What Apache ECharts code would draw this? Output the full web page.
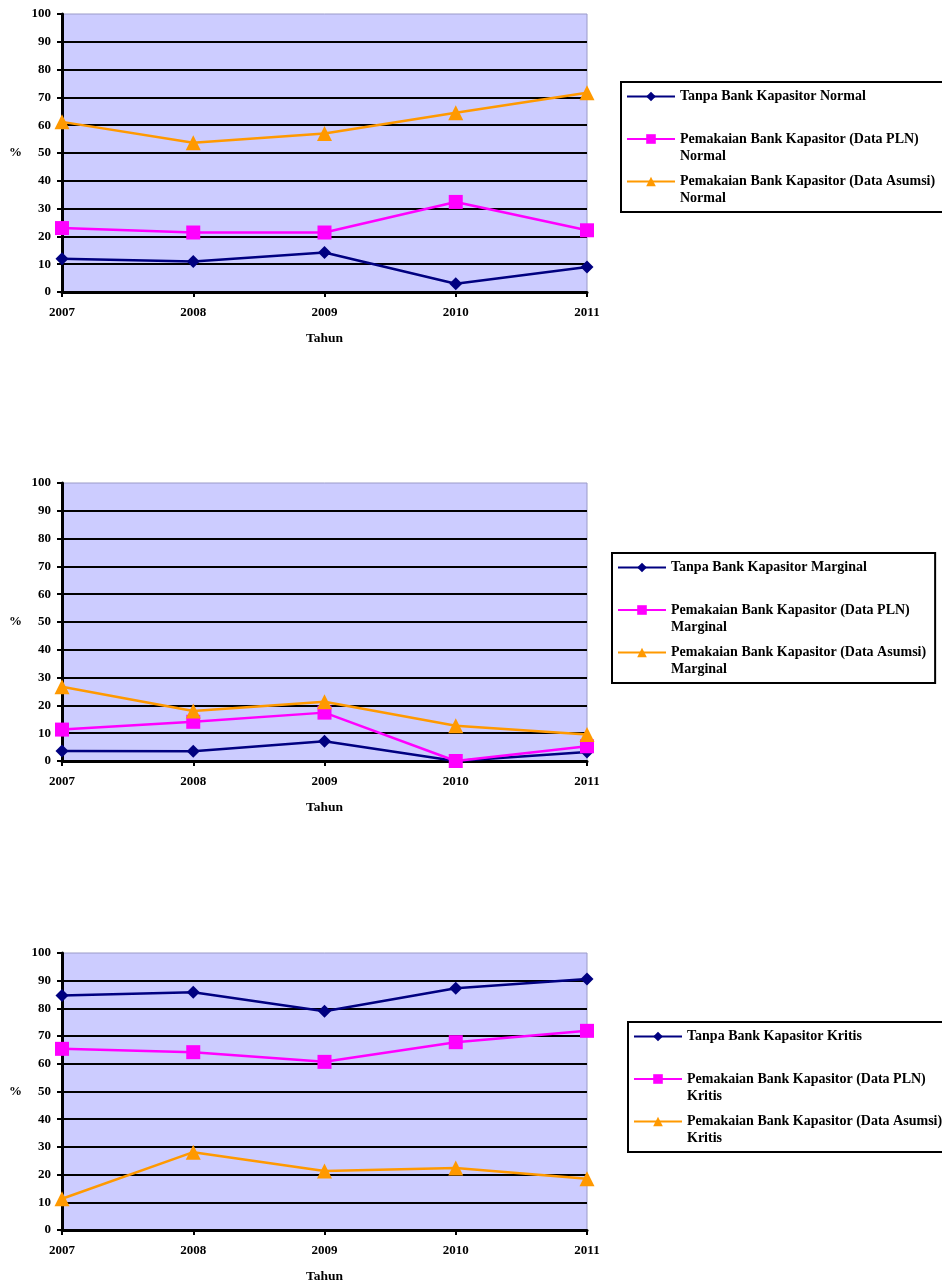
<!DOCTYPE html>
<html>
<head>
<meta charset="utf-8">
<script src="https://cdn.jsdelivr.net/npm/echarts@6/dist/echarts.min.js"></script>
<style>
html,body{margin:0;padding:0;background:#fff;}
#c{width:942px;height:1285px;}
</style>
</head>
<body>
<div id="c"></div>
<script>
const years = ['2007', '2008', '2009', '2010', '2011'];
const yTicks = [0, 10, 20, 30, 40, 50, 60, 70, 80, 90, 100];

const normalTanpa = [12, 11, 14.2, 3, 9];
const normalPLN = [23, 21.4, 21.4, 32.4, 22.2];
const normalAsumsi = [61.2, 53.7, 57, 64.5, 71.7];

const marginalTanpa = [3.6, 3.5, 7.1, 0, 3.2];
const marginalPLN = [11.3, 14.1, 17.4, 0, 5.3];
const marginalAsumsi = [26.7, 18, 21.3, 12.7, 9.5];

const kritisTanpa = [84.7, 85.8, 79, 87.3, 90.6];
const kritisPLN = [65.4, 64.2, 60.7, 67.8, 71.9];
const kritisAsumsi = [11.3, 28.1, 21.3, 22.4, 18.5];

const panels = [
  { cond: 'Normal', data: [normalTanpa, normalPLN, normalAsumsi] },
  { cond: 'Marginal', data: [marginalTanpa, marginalPLN, marginalAsumsi] },
  { cond: 'Kritis', data: [kritisTanpa, kritisPLN, kritisAsumsi] }
];
const seriesBase = ['Tanpa Bank Kapasitor', 'Pemakaian Bank Kapasitor (Data PLN)', 'Pemakaian Bank Kapasitor (Data Asumsi)'];
const colors = ['#000080', '#FF00FF', '#FF9900'];
const symbols = ['diamond', 'rect', 'triangle'];
const symbolSizes = [13, 14, 15];

// layout (pixels)
const gridTops = [14, 483, 953];
const gridH = 278;
const legendPos = [
  { left: 621, top: 82 },
  { left: 612, top: 553 },
  { left: 628, top: 1022 }
];

const FONT = "'Liberation Serif', 'Times New Roman', serif";
const NB = '\u00a0';

const grids = [], xAxes = [], yAxes = [], series = [], legends = [];
panels.forEach((p, i) => {
  grids.push({
    left: 62, top: gridTops[i], width: 525, height: gridH,
    show: true, backgroundColor: '#CCCCFF', borderColor: '#9a9ac8', borderWidth: 1
  });
  xAxes.push({
    gridIndex: i, type: 'category', data: years, boundaryGap: false,
    name: 'Tahun', nameLocation: 'middle', nameGap: 40,
    nameTextStyle: { fontFamily: FONT, fontWeight: 'bold', fontSize: 13.5, color: '#000' },
    axisLine: { lineStyle: { color: '#000', width: 3 } },
    axisTick: { show: true, length: 5, lineStyle: { color: '#000', width: 2 } },
    axisLabel: { fontFamily: FONT, fontWeight: 'bold', fontSize: 13, color: '#000', margin: 14 },
    splitLine: { show: false }
  });
  yAxes.push({
    gridIndex: i, type: 'value', min: 0, max: 100, interval: 10,
    name: '%', nameLocation: 'middle', nameGap: 40, nameRotate: 0,
    nameTextStyle: { fontFamily: FONT, fontWeight: 'bold', fontSize: 13, color: '#000' },
    axisLine: { show: true, lineStyle: { color: '#000', width: 3 } },
    axisTick: { show: true, length: 5, lineStyle: { color: '#000', width: 2 } },
    axisLabel: { fontFamily: FONT, fontWeight: 'bold', fontSize: 13, color: '#000', margin: 11,
      formatter: v => (yTicks.indexOf(v) >= 0 ? String(v) : '') },
    splitLine: { show: true, showMaxLine: false, showMinLine: false, lineStyle: { color: '#000', width: 2 } }
  });
  const names = [];
  p.data.forEach((vals, k) => {
    const name = seriesBase[k] + ' ' + p.cond;
    names.push(name);
    series.push({
      type: 'line', name: name, xAxisIndex: i, yAxisIndex: i, data: vals,
      symbol: symbols[k], symbolSize: symbolSizes[k], showAllSymbol: true,
      itemStyle: { color: colors[k] },
      lineStyle: { color: colors[k], width: 2.5 },
      animation: false
    });
  });
  legends.push({
    data: names, orient: 'vertical', left: legendPos[i].left, top: legendPos[i].top,
    itemWidth: 48, itemHeight: 12, itemGap: -8.5,
    padding: [-11, 9, 5, 5], borderColor: '#000', borderWidth: 2, backgroundColor: '#fff',
    selectedMode: false,
    formatter: function (n) {
      if (n.indexOf('Tanpa') === 0) return NB + '\n' + n + '\n' + NB;
      const idx = n.lastIndexOf(' ');
      return NB + '\n' + n.substring(0, idx) + '\n' + n.substring(idx + 1);
    },
    textStyle: { fontFamily: FONT, fontWeight: 'bold', fontSize: 14, color: '#000', lineHeight: 17 }
  });
});

const chart = echarts.init(document.getElementById('c'), null, { renderer: 'canvas' });
chart.setOption({
  animation: false,
  backgroundColor: '#fff',
  grid: grids, xAxis: xAxes, yAxis: yAxes, series: series, legend: legends
});
</script>
</body>
</html>
